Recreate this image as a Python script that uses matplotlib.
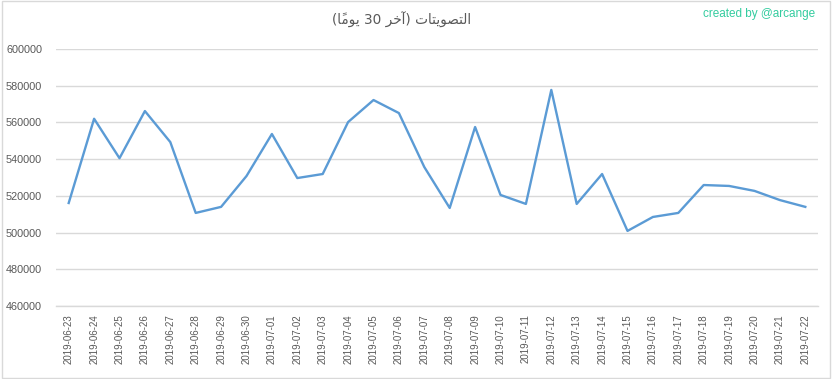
import numpy as np
import matplotlib
matplotlib.use("Agg")
import matplotlib.pyplot as plt
from matplotlib.patches import Rectangle

# data (daily vote counts, last 30 days)
dates = ["2019-06-23", "2019-06-24", "2019-06-25", "2019-06-26", "2019-06-27",
         "2019-06-28", "2019-06-29", "2019-06-30", "2019-07-01", "2019-07-02",
         "2019-07-03", "2019-07-04", "2019-07-05", "2019-07-06", "2019-07-07",
         "2019-07-08", "2019-07-09", "2019-07-10", "2019-07-11", "2019-07-12",
         "2019-07-13", "2019-07-14", "2019-07-15", "2019-07-16", "2019-07-17",
         "2019-07-18", "2019-07-19", "2019-07-20", "2019-07-21", "2019-07-22"]
votes = [516100, 562000, 540500, 566200, 549300,
         510700, 514000, 530800, 553700, 529700,
         531900, 560200, 572200, 565100, 535700,
         513400, 557500, 520500, 515600, 577700,
         515600, 531900, 500900, 508500, 510700,
         525900, 525400, 522700, 517700, 514000]
y_ticks = [460000, 480000, 500000, 520000, 540000, 560000, 580000, 600000]

# title "التصويتات (آخر 30 يومًا)" in shaped presentation forms,
# laid out right-to-left by hand (matplotlib has no bidi)
w1 = "\uFE95\uFE8E\uFE98\uFEF3\uFEEE\uFEBC\uFE98\uFEDF\uFE8D"   # التصويتات
w2 = "\uFEAE\uFEA7\uFE81"                                     # آخر
w3 = "\uFE8E\u064B\uFEE3\uFEEE\uFEF3"                         # يومًا
title = "(" + w3 + " 30 " + w2 + ") " + w1

grey = "#595959"
fig = plt.figure(figsize=(8.32, 3.79), dpi=100)
ax = fig.add_axes([56 / 832, 1 - 306 / 379, (818 - 56) / 832, (306 - 49) / 379])

x = np.arange(len(dates))
ax.plot(x, votes, color="#5b9bd5", linewidth=1.7, solid_joinstyle="round")

ax.set_xlim(-0.5, len(dates) - 0.5)
ax.set_ylim(y_ticks[0], y_ticks[-1])
ax.set_yticks(y_ticks)
ax.set_yticklabels([str(v) for v in y_ticks], fontsize=7.8, color=grey,
                   family="Liberation Sans")
ax.set_xticks(x)
ax.set_xticklabels(dates, rotation=90, fontsize=7, color=grey,
                   family="Liberation Sans")
ax.tick_params(axis="y", length=0, pad=10)
ax.tick_params(axis="x", length=0, pad=6)

ax.grid(axis="y", color="#d9d9d9", linewidth=1.0)
ax.set_axisbelow(True)
for side in ["top", "right", "left"]:
    ax.spines[side].set_visible(False)
ax.spines["bottom"].set_color("#d9d9d9")
ax.spines["bottom"].set_linewidth(1.0)

fig.text(402 / 832, 1 - 20 / 379, title, ha="center", va="center",
         fontsize=9.8, color=grey, family="DejaVu Sans")
fig.text(815 / 832, 1 - 14 / 379, "created by @arcange", ha="right",
         va="center", fontsize=8.5, color="#33cc9f", family="Liberation Sans")

# light frame round the whole chart
fig.patches.append(Rectangle((0.002, 0.003), 0.995, 0.994, transform=fig.transFigure,
                             fill=False, edgecolor="#d9d9d9", linewidth=1.0))

plt.savefig("out.png", dpi=100)
